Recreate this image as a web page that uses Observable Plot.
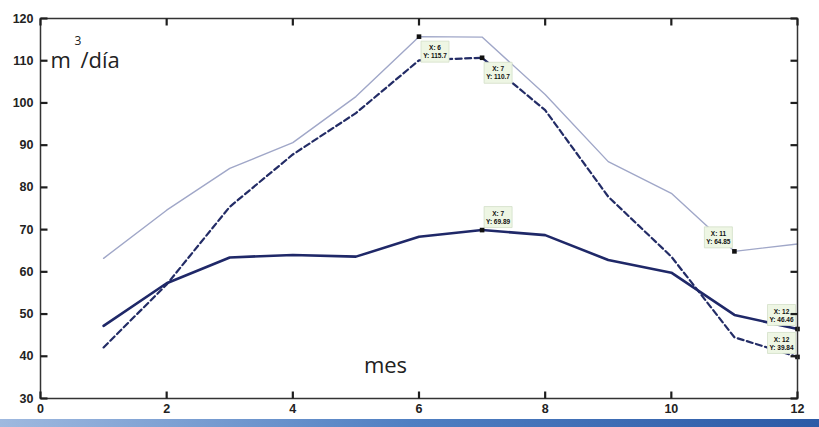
<!DOCTYPE html>
<html>
<head>
<meta charset="utf-8">
<script src="https://cdn.jsdelivr.net/npm/d3@7"></script>
<script src="https://cdn.jsdelivr.net/npm/@observablehq/plot@0.6"></script>
<style>
  html, body { margin: 0; padding: 0; background: #ffffff; }
  #wrap { width: 819px; height: 427px; position: relative; overflow: hidden; }
  #bar { position: absolute; left: 0; top: 419px; width: 819px; height: 8px;
         background: linear-gradient(to right, #9fb9df, #4f7fc2 50%, #2c5aa6); }
</style>
</head>
<body>
<div id="wrap"><div id="chart"></div><div id="bar"></div></div>
<script>
// ---- data ----
const months = [1, 2, 3, 4, 5, 6, 7, 8, 9, 10, 11, 12];
const lightSeries  = [63.2, 74.6, 84.5, 90.6, 101.5, 115.7, 115.6, 102.0, 86.1, 78.6, 64.85, 66.6];
const dashedSeries = [42.1, 57.0, 75.4, 87.8, 97.6, 110.1, 110.7, 98.3, 77.8, 63.6, 44.5, 39.84];
const solidSeries  = [47.2, 57.3, 63.4, 64.0, 63.6, 68.3, 69.89, 68.7, 62.8, 59.8, 49.8, 46.46];
const xTicks = [0, 2, 4, 6, 8, 10, 12];
const yTicks = [30, 40, 50, 60, 70, 80, 90, 100, 110, 120];
// data tips: series name, month, placement of the box
const tipSeries = ["light", "dashed", "solid", "light", "solid", "dashed"];
const tipMonths = [6, 7, 7, 11, 12, 12];
const tipPlace  = ["br", "br", "tr", "tl", "tl", "tl"];

const seriesValues = {light: lightSeries, dashed: dashedSeries, solid: solidSeries};
const rows = (name) => months.map((m, i) => ({x: m, y: seriesValues[name][i]}));
const tips = tipSeries.map((s, i) => ({
  x: tipMonths[i],
  y: seriesValues[s][months.indexOf(tipMonths[i])],
  place: tipPlace[i]
}));
const fmt = d3.format(".4");

// box shape for data tips (fixed size rectangle)
const boxSymbol = {draw(ctx) { ctx.rect(-14, -10.5, 28, 21); }};
const placeOffsets = {br: [16, 15], tr: [16, -13], tl: [-16, -14]};

const tipMarks = [];
for (const p of Object.keys(placeOffsets)) {
  const data = tips.filter(t => t.place === p);
  if (!data.length) continue;
  const [dx, dy] = placeOffsets[p];
  tipMarks.push(Plot.dot(data, {x: "x", y: "y", symbol: boxSymbol, dx, dy,
    fill: "#eef6e4", stroke: "#d3dfc8", strokeWidth: 0.8}));
  tipMarks.push(Plot.text(data, {x: "x", y: "y", dx, dy,
    text: d => `X: ${d.x}\nY: ${fmt(d.y)}`, fontSize: 6.5, fontWeight: "bold",
    fill: "#111", lineHeight: 1.25, textAnchor: "middle", lineAnchor: "middle",
    fontFamily: "Liberation Sans, Arial, sans-serif"}));
}

// inward tick shapes (small filled bars) for the four sides of the box
const TL = 7, TW = 2.2;
const tickUp    = {draw(ctx) { ctx.rect(-TW / 2, -TL, TW, TL); }};
const tickDown  = {draw(ctx) { ctx.rect(-TW / 2, 0, TW, TL); }};
const tickRight = {draw(ctx) { ctx.rect(0, -TW / 2, TL, TW); }};
const tickLeft  = {draw(ctx) { ctx.rect(-TL, -TW / 2, TL, TW); }};
const tickFill = "#1e1e1e";

const labelFont = "Open Sans, sans-serif";

const chart = Plot.plot({
  width: 819,
  height: 419,
  marginLeft: 40,
  marginRight: 22,
  marginTop: 18,
  marginBottom: 21,
  style: {fontFamily: "Liberation Sans Narrow, Liberation Sans, Arial, sans-serif",
          fontSize: "12.5px", fontWeight: "bold", color: "#222", background: "#fff"},
  x: {domain: [0, 12], label: null},
  y: {domain: [30, 120], label: null},
  marks: [
    Plot.axisX({anchor: "bottom", ticks: xTicks, tickSize: 0, tickPadding: 6}),
    Plot.axisY({anchor: "left", ticks: yTicks, tickSize: 0, tickPadding: 7}),
    Plot.line(rows("light"), {x: "x", y: "y", stroke: "#a0a7c8", strokeWidth: 1.4}),
    Plot.line(rows("dashed"), {x: "x", y: "y", stroke: "#232c66", strokeWidth: 2.2, strokeDasharray: "6,3.5"}),
    Plot.line(rows("solid"), {x: "x", y: "y", stroke: "#1f2868", strokeWidth: 2.6}),
    ...tipMarks,
    Plot.dot(tips, {x: "x", y: "y", symbol: "square", r: 2.6, fill: "#111"}),
    Plot.frame({stroke: "#333", strokeWidth: 1.5}),
    // inward tick marks on all four sides
    Plot.dot(xTicks, {x: d => d, frameAnchor: "bottom", symbol: tickUp, fill: tickFill, stroke: null}),
    Plot.dot(xTicks, {x: d => d, frameAnchor: "top", symbol: tickDown, fill: tickFill, stroke: null}),
    Plot.dot(yTicks, {y: d => d, frameAnchor: "left", symbol: tickRight, fill: tickFill, stroke: null}),
    Plot.dot(yTicks, {y: d => d, frameAnchor: "right", symbol: tickLeft, fill: tickFill, stroke: null}),
    Plot.text(["m"], {frameAnchor: "top-left", text: d => d, dx: 10, dy: 49, lineAnchor: "bottom",
      textAnchor: "start", fontSize: 22, fontWeight: "normal", fontFamily: labelFont, fill: "#222"}),
    Plot.text(["3"], {frameAnchor: "top-left", text: d => d, dx: 34, dy: 26, lineAnchor: "bottom",
      textAnchor: "start", fontSize: 12, fontWeight: "normal", fontFamily: labelFont, fill: "#222"}),
    Plot.text(["/día"], {frameAnchor: "top-left", text: d => d, dx: 40, dy: 49, lineAnchor: "bottom",
      textAnchor: "start", fontSize: 22, fontWeight: "normal", fontFamily: labelFont, fill: "#222"}),
    Plot.text(["mes"], {frameAnchor: "top-left", text: d => d, dx: 345, dy: 354, lineAnchor: "bottom",
      textAnchor: "middle", fontSize: 22, fontWeight: "normal", fontFamily: labelFont, fill: "#222"})
  ]
});
document.getElementById("chart").appendChild(chart);
</script>
</body>
</html>
